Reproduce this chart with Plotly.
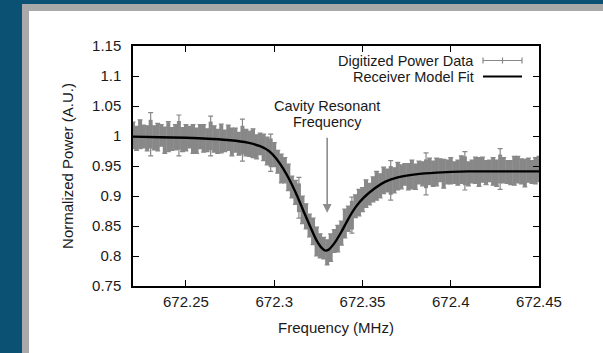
import numpy as np
import plotly.graph_objects as go

# ---- data ----
freq = [672.220, 672.222, 672.224, 672.226, 672.228, 672.230, 672.232, 672.234, 672.236, 672.238,
        672.240, 672.242, 672.244, 672.246, 672.248, 672.250, 672.252, 672.254, 672.256, 672.258,
        672.260, 672.262, 672.264, 672.266, 672.268, 672.270, 672.272, 672.274, 672.276, 672.278,
        672.280, 672.282, 672.284, 672.286, 672.288, 672.290, 672.292, 672.294, 672.296, 672.298,
        672.300, 672.302, 672.304, 672.306, 672.308, 672.310, 672.312, 672.314, 672.316, 672.318,
        672.320, 672.322, 672.324, 672.326, 672.328, 672.330, 672.332, 672.334, 672.336, 672.338,
        672.340, 672.342, 672.344, 672.346, 672.348, 672.350, 672.352, 672.354, 672.356, 672.358,
        672.360, 672.362, 672.364, 672.366, 672.368, 672.370, 672.372, 672.374, 672.376, 672.378,
        672.380, 672.382, 672.384, 672.386, 672.388, 672.390, 672.392, 672.394, 672.396, 672.398,
        672.400, 672.402, 672.404, 672.406, 672.408, 672.410, 672.412, 672.414, 672.416, 672.418,
        672.420, 672.422, 672.424, 672.426, 672.428, 672.430, 672.432, 672.434, 672.436, 672.438,
        672.440, 672.442, 672.444, 672.446, 672.448, 672.450]

power = [1.001, 0.996, 1.003, 0.999, 0.996, 1.003, 0.997, 0.998, 1.001, 0.993,
         0.999, 0.995, 0.998, 1.001, 0.994, 0.997, 0.998, 0.995, 0.992, 0.999,
         0.996, 0.993, 1.000, 0.995, 0.991, 0.996, 0.992, 0.997, 0.990, 0.993,
         0.987, 0.993, 0.989, 0.987, 0.988, 0.982, 0.987, 0.981, 0.975, 0.972,
         0.969, 0.957, 0.946, 0.943, 0.931, 0.915, 0.906, 0.897, 0.877, 0.866,
         0.851, 0.841, 0.824, 0.817, 0.813, 0.806, 0.814, 0.825, 0.829, 0.838,
         0.854, 0.862, 0.868, 0.883, 0.889, 0.894, 0.904, 0.903, 0.911, 0.917,
         0.917, 0.926, 0.926, 0.926, 0.926, 0.933, 0.932, 0.936, 0.932, 0.936,
         0.932, 0.939, 0.937, 0.937, 0.941, 0.937, 0.940, 0.943, 0.937, 0.940,
         0.942, 0.939, 0.939, 0.944, 0.942, 0.937, 0.941, 0.943, 0.940, 0.944,
         0.939, 0.942, 0.941, 0.938, 0.945, 0.943, 0.940, 0.939, 0.942, 0.944,
         0.941, 0.938, 0.943, 0.940, 0.942, 0.945]

power_err = [0.022, 0.020, 0.024, 0.019, 0.021, 0.036, 0.020, 0.023, 0.018, 0.022,
             0.025, 0.019, 0.021, 0.034, 0.020, 0.022, 0.018, 0.024, 0.021, 0.020,
             0.023, 0.019, 0.033, 0.022, 0.020, 0.024, 0.018, 0.021, 0.023, 0.020,
             0.019, 0.035, 0.022, 0.021, 0.024, 0.020, 0.018, 0.022, 0.023, 0.031,
             0.020, 0.019, 0.024, 0.021, 0.022, 0.018, 0.020, 0.034, 0.023, 0.021,
             0.019, 0.022, 0.024, 0.020, 0.018, 0.021, 0.023, 0.019, 0.022, 0.020,
             0.024, 0.021, 0.030, 0.019, 0.022, 0.020, 0.023, 0.018, 0.021, 0.024,
             0.020, 0.022, 0.019, 0.033, 0.021, 0.023, 0.020, 0.018, 0.022, 0.024,
             0.021, 0.019, 0.020, 0.035, 0.022, 0.021, 0.023, 0.019, 0.024, 0.020,
             0.022, 0.018, 0.021, 0.023, 0.032, 0.020, 0.019, 0.022, 0.024, 0.021,
             0.020, 0.018, 0.023, 0.022, 0.034, 0.021, 0.019, 0.020, 0.024, 0.022,
             0.021, 0.023, 0.020, 0.019, 0.022, 0.021]

fit_freq = [672.220, 672.235, 672.250, 672.265, 672.275, 672.285, 672.292, 672.297, 672.301,
            672.305, 672.309, 672.313, 672.317, 672.321, 672.324, 672.327, 672.329, 672.331,
            672.334, 672.338, 672.342, 672.346, 672.351, 672.357, 672.363, 672.370, 672.380,
            672.392, 672.410, 672.430, 672.450]
fit_power = [0.999, 0.998, 0.997, 0.995, 0.993, 0.989, 0.983, 0.975, 0.963,
             0.946, 0.925, 0.900, 0.872, 0.845, 0.826, 0.813, 0.809, 0.811,
             0.821, 0.840, 0.862, 0.881, 0.898, 0.913, 0.924, 0.931, 0.936,
             0.939, 0.941, 0.941, 0.941]

x_ticks = [672.25, 672.30, 672.35, 672.40, 672.45]
x_tick_labels = ["672.25", "672.3", "672.35", "672.4", "672.45"]
y_ticks = [0.75, 0.80, 0.85, 0.90, 0.95, 1.00, 1.05, 1.10, 1.15]
y_tick_labels = ["0.75", "0.8", "0.85", "0.9", "0.95", "1", "1.05", "1.1", "1.15"]

resonance_freq = 672.33
resonance_tip = 0.872
resonance_label = ["Cavity Resonant", "Frequency"]

# ---- styling ----
FONT = "Liberation Sans, Arial, Helvetica, sans-serif"
TXT = "#1a1a1a"
GRAY = "#888888"
TEAL = "#0a5173"
FRAME_GRAY = "#a9a9a9"

W, H = 603, 353
ML, MR, MT, MB = 133, 64, 46, 67
PW, PH = W - ML - MR, H - MT - MB


def px_x(p):
    return (p - ML) / PW


def px_y(p):
    return (H - MB - p) / PH


core_err = np.minimum(np.array(power_err), 0.024)

fig = go.Figure()

# dense band of error bars
fig.add_trace(go.Scatter(
    x=freq, y=power, mode="markers",
    marker=dict(size=1, color=GRAY),
    error_y=dict(type="data", array=core_err, color=GRAY, thickness=4, width=0),
    showlegend=False, hoverinfo="skip"))
# thin capped error bars
fig.add_trace(go.Scatter(
    x=freq, y=power, mode="markers",
    marker=dict(size=1, color=GRAY),
    error_y=dict(type="data", array=power_err, color=GRAY, thickness=1.2, width=2.5),
    showlegend=False, name="Digitized Power Data"))
# model fit
fig.add_trace(go.Scatter(
    x=fit_freq, y=fit_power, mode="lines",
    line=dict(color="black", width=2.4, shape="spline", smoothing=0.8),
    showlegend=False, name="Receiver Model Fit"))

LEG1, LEG2 = 60.5, 76.5

shapes = [
    dict(type="rect", xref="paper", yref="paper", layer="below",
         x0=px_x(22), x1=px_x(620), y0=px_y(4), y1=px_y(370),
         fillcolor=FRAME_GRAY, line=dict(width=0)),
    dict(type="rect", xref="paper", yref="paper", layer="below",
         x0=px_x(29), x1=px_x(620), y0=px_y(11), y1=px_y(370),
         fillcolor="white", line=dict(width=0)),
    # legend sample: error bar
    dict(type="line", xref="paper", yref="paper",
         x0=px_x(483), x1=px_x(522), y0=px_y(LEG1), y1=px_y(LEG1),
         line=dict(color=GRAY, width=1.2)),
    dict(type="line", xref="paper", yref="paper",
         x0=px_x(483), x1=px_x(483), y0=px_y(LEG1 - 3), y1=px_y(LEG1 + 3),
         line=dict(color=GRAY, width=1.2)),
    dict(type="line", xref="paper", yref="paper",
         x0=px_x(502.5), x1=px_x(502.5), y0=px_y(LEG1 - 3), y1=px_y(LEG1 + 3),
         line=dict(color=GRAY, width=1.2)),
    dict(type="line", xref="paper", yref="paper",
         x0=px_x(522), x1=px_x(522), y0=px_y(LEG1 - 3), y1=px_y(LEG1 + 3),
         line=dict(color=GRAY, width=1.2)),
    # legend sample: fit line
    dict(type="line", xref="paper", yref="paper",
         x0=px_x(483), x1=px_x(522), y0=px_y(LEG2), y1=px_y(LEG2),
         line=dict(color="black", width=2.2)),
]

annotations = [
    dict(xref="paper", yref="paper", x=px_x(475), y=px_y(LEG1), text="Digitized Power Data",
         showarrow=False, xanchor="right", yanchor="middle", borderpad=0,
         font=dict(family=FONT, size=14.5, color=TXT)),
    dict(xref="paper", yref="paper", x=px_x(475), y=px_y(LEG2), text="Receiver Model Fit",
         showarrow=False, xanchor="right", yanchor="middle", borderpad=0,
         font=dict(family=FONT, size=14.5, color=TXT)),
    # label text, two tight lines as in the reference
    dict(x=resonance_freq, xref="x", yref="paper", y=px_y(105.5), text=resonance_label[0],
         showarrow=False, xanchor="center", yanchor="middle", borderpad=0,
         font=dict(family=FONT, size=14.5, color=TXT)),
    dict(x=resonance_freq, xref="x", yref="paper", y=px_y(121.5), text=resonance_label[1],
         showarrow=False, xanchor="center", yanchor="middle", borderpad=0,
         font=dict(family=FONT, size=14.5, color=TXT)),
    # arrow
    dict(x=resonance_freq, y=resonance_tip, xref="x", yref="y",
         text=" ", showarrow=True, ax=0, ay=-77,
         arrowcolor="#8c8c8c", arrowwidth=1.6, arrowhead=2, arrowsize=1.1,
         standoff=0, startstandoff=0,
         font=dict(family=FONT, size=1, color=TXT)),
]

fig.update_layout(
    width=W, height=H,
    margin=dict(l=ML, r=MR, t=MT, b=MB, pad=0),
    paper_bgcolor=TEAL, plot_bgcolor="white",
    font=dict(family=FONT, size=15, color=TXT),
    shapes=shapes, annotations=annotations,
    showlegend=False,
    xaxis=dict(range=[672.22, 672.45], tickvals=x_ticks, ticktext=x_tick_labels,
               ticks="inside", ticklen=6, tickwidth=1.2, tickcolor="black",
               showline=True, linecolor="black", linewidth=1.5, mirror="ticks",
               showgrid=False, zeroline=False, ticklabelstandoff=1,
               title=dict(text="Frequency (MHz)", standoff=14,
                          font=dict(family=FONT, size=15, color=TXT)),
               tickfont=dict(family=FONT, size=15, color=TXT)),
    yaxis=dict(range=[0.75, 1.15], tickvals=y_ticks, ticktext=y_tick_labels,
               ticks="inside", ticklen=6, tickwidth=1.2, tickcolor="black",
               showline=True, linecolor="black", linewidth=1.5, mirror="ticks",
               showgrid=False, zeroline=False, ticklabelstandoff=7,
               title=dict(text="Normalized Power (A.U.)", standoff=15,
                          font=dict(family=FONT, size=15, color=TXT)),
               tickfont=dict(family=FONT, size=15, color=TXT)),
)

fig.write_html("out.html", config={"displayModeBar": False},
               post_script="document.body.style.margin='0px';document.body.style.overflow='hidden';")
